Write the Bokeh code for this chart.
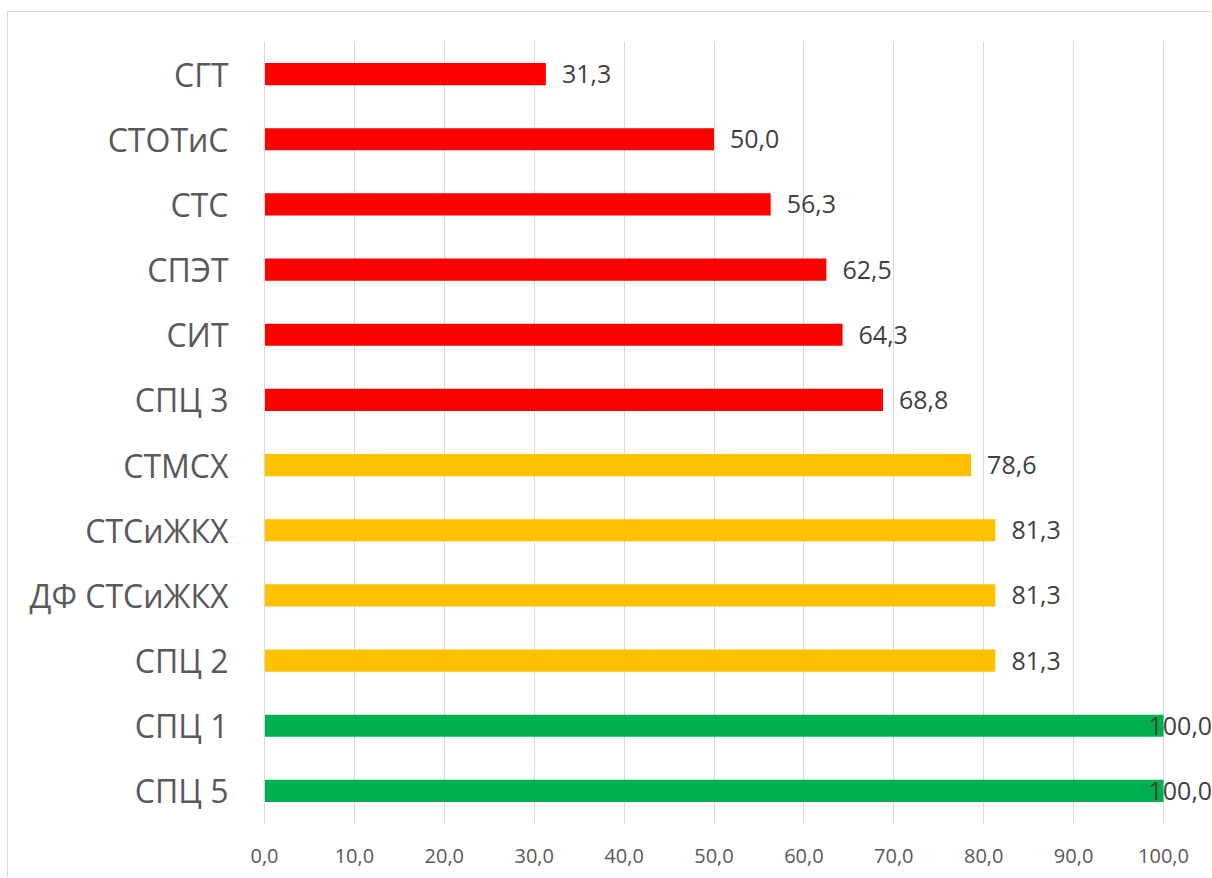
from bokeh.plotting import figure
from bokeh.models import ColumnDataSource, FactorRange, Range1d, FixedTicker, CustomJSTickFormatter, LabelSet
from bokeh.core.properties import value
from bokeh.embed import file_html
from bokeh.resources import INLINE

categories = ["СГТ", "СТОТиС", "СТС", "СПЭТ", "СИТ", "СПЦ 3", "СТМСХ", "СТСиЖКХ", "ДФ СТСиЖКХ", "СПЦ 2", "СПЦ 1", "СПЦ 5"]
values = [31.3, 50.0, 56.3, 62.5, 64.3, 68.8, 78.6, 81.3, 81.3, 81.3, 100.0, 100.0]
x_ticks = [0, 10, 20, 30, 40, 50, 60, 70, 80, 90, 100]

RED, GOLD, GREEN = "#FF0000", "#FFC000", "#00B050"

def color_for(v):
    if v >= 100:
        return GREEN
    if v >= 75:
        return GOLD
    return RED

labels = [f"{v:.1f}".replace(".", ",") for v in values]
colors = [color_for(v) for v in values]
offsets = [16 if v < 100 else -15 for v in values]

src = ColumnDataSource(dict(cat=categories, val=values, lab=labels, col=colors, off=offsets))

FONT = "Open Sans"

p = figure(
    width=1204, height=866,
    y_range=FactorRange(*list(reversed(categories)), range_padding=0),
    x_range=Range1d(0, 105.45),
    output_backend="svg", toolbar_location=None,
    min_border_left=256, min_border_top=29, min_border_bottom=55, min_border_right=0,
)
p.styles = {"border-left": "1px solid #d9d9d9", "border-top": "1px solid #d9d9d9",
            "margin-top": "11px", "margin-left": "7px"}
p.outline_line_color = None
p.background_fill_color = "white"
p.border_fill_color = "white"

p.hbar(y="cat", right="val", left=0, height=0.34, color="col", source=src, line_color=None)

labelset = LabelSet(x="val", y="cat", text="lab", x_offset="off", source=src,
                    text_baseline="middle", text_align="left",
                    text_font=value(FONT), text_font_size="25px", text_color="#404040")
p.add_layout(labelset)

# x axis
p.xaxis.ticker = FixedTicker(ticks=x_ticks)
p.xaxis.formatter = CustomJSTickFormatter(code="return tick.toFixed(1).replace('.', ',');")
p.xaxis.axis_line_color = None
p.xaxis.major_tick_line_color = None
p.xaxis.minor_tick_line_color = None
p.xaxis.major_label_standoff = 19
p.xaxis.major_label_text_font = FONT
p.xaxis.major_label_text_font_size = "20px"
p.xaxis.major_label_text_color = "#595959"

# y axis
p.yaxis.axis_line_color = "#d9d9d9"
p.yaxis.major_tick_line_color = None
p.yaxis.minor_tick_line_color = None
p.yaxis.major_label_standoff = 30
p.yaxis.major_label_text_font = FONT
p.yaxis.major_label_text_font_size = "32px"
p.yaxis.major_label_text_color = "#595959"

p.xgrid.grid_line_color = "#d9d9d9"
p.xgrid.grid_line_width = 1
p.ygrid.grid_line_color = None

open("out.html", "w").write(file_html(p, INLINE))
